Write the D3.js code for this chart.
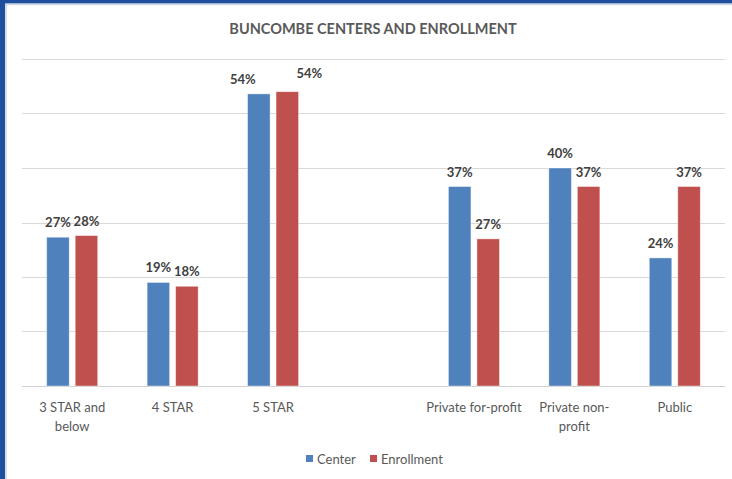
<!DOCTYPE html>
<html>
<head>
<meta charset="utf-8">
<script src="https://cdn.jsdelivr.net/npm/d3@7"></script>
<style>
  html, body { margin: 0; padding: 0; background: #fff; }
  svg { display: block; }
</style>
</head>
<body>
<svg id="chart" width="732" height="479"></svg>
<script>
// ---- data ----
const categories = ["3 STAR and below", "4 STAR", "5 STAR", "", "Private for-profit", "Private non-profit", "Public"];
const seriesNames = ["Center", "Enrollment"];
const centerValues = [0.273, 0.190, 0.536, null, 0.366, 0.400, 0.235];
const enrollmentValues = [0.276, 0.183, 0.540, null, 0.270, 0.366, 0.366];
const yTicks = [0, 0.1, 0.2, 0.3, 0.4, 0.5, 0.6];
const categoryLines = [["3 STAR and", "below"], ["4 STAR"], ["5 STAR"], [], ["Private for-profit"], ["Private non-", "profit"], ["Public"]];
const title = "BUNCOMBE CENTERS AND ENROLLMENT";

const colors = ["#4f81bd", "#c0504d"];
const font = "Lato, 'Open Sans', sans-serif";

const svg = d3.select("#chart");
const W = 732, H = 479;

// frame
svg.append("rect").attr("x", 0).attr("y", 0).attr("width", W).attr("height", H).attr("fill", "#fff");
svg.append("rect").attr("x", 0).attr("y", 0).attr("width", W).attr("height", 3.5).attr("fill", "#1f4e9e");
svg.append("rect").attr("x", 0).attr("y", 0).attr("width", 5).attr("height", H).attr("fill", "#1f4e9e");
svg.append("line").attr("x1", 5.5).attr("x2", W).attr("y1", 4.5).attr("y2", 4.5).attr("stroke", "#d0d6e2").attr("stroke-width", 1.5);
svg.append("line").attr("x1", 6).attr("x2", 6).attr("y1", 4).attr("y2", H).attr("stroke", "#c8d0e0").attr("stroke-width", 1.5);

const x = d3.scaleBand().domain(d3.range(categories.length)).range([22, 725]).padding(0);
const y = d3.scaleLinear().domain([0, 0.6]).range([386, 59]);

// gridlines
svg.append("g").selectAll("line").data(yTicks).join("line")
  .attr("x1", 22).attr("x2", 725)
  .attr("y1", d => Math.round(y(d)) + 0.5).attr("y2", d => Math.round(y(d)) + 0.5)
  .attr("stroke", d => d === 0 ? "#d0d0d0" : "#d9d9d9").attr("stroke-width", 1.2);

// title
svg.append("text").attr("x", 373).attr("y", 34).attr("text-anchor", "middle")
  .attr("font-family", font).attr("font-weight", "bold").attr("font-size", 14.5)
  .attr("fill", "#595959").text(title);

const barW = 22.5, gap = 6;
const seriesData = [centerValues, enrollmentValues];
const fmt = d3.format(".0%");
// manual label nudges (as placed in the original chart)
const nudge = { "2-0": [-16, 0], "2-1": [22, -4] };

seriesData.forEach((vals, s) => {
  const g = svg.append("g");
  const pts = vals.map((v, i) => ({ v, i })).filter(d => d.v != null);
  g.selectAll("rect").data(pts).join("rect")
    .attr("x", d => x(d.i) + x.bandwidth() / 2 - (barW + gap / 2) + s * (barW + gap))
    .attr("y", d => y(d.v))
    .attr("width", barW)
    .attr("height", d => y(0) - y(d.v))
    .attr("fill", colors[s])
    .attr("stroke", "#ffffff").attr("stroke-opacity", 0.5).attr("stroke-width", 0.8);
  g.selectAll("text").data(pts).join("text")
    .attr("x", d => x(d.i) + x.bandwidth() / 2 - (barW + gap / 2) + s * (barW + gap) + barW / 2 + (nudge[d.i + "-" + s] || [0, 0])[0])
    .attr("y", d => y(d.v) - 10 + (nudge[d.i + "-" + s] || [0, 0])[1])
    .attr("text-anchor", "middle")
    .attr("font-family", font).attr("font-weight", "bold").attr("font-size", 13)
    .attr("fill", "#404040")
    .text(d => fmt(d.v));
});

// category labels
const cl = svg.append("g");
categoryLines.forEach((lines, i) => {
  lines.forEach((ln, k) => {
    cl.append("text").attr("x", x(i) + x.bandwidth() / 2).attr("y", 412 + k * 19)
      .attr("text-anchor", "middle").attr("font-family", font).attr("font-size", 13)
      .attr("fill", "#595959").text(ln);
  });
});

// legend
const legend = svg.append("g");
const legX = [306, 370];
seriesNames.forEach((n, s) => {
  legend.append("rect").attr("x", legX[s]).attr("y", 455).attr("width", 7).attr("height", 7).attr("fill", colors[s]);
  legend.append("text").attr("x", legX[s] + 11).attr("y", 463.5).attr("font-family", font).attr("font-size", 13)
    .attr("fill", "#595959").text(n);
});
</script>
</body>
</html>
